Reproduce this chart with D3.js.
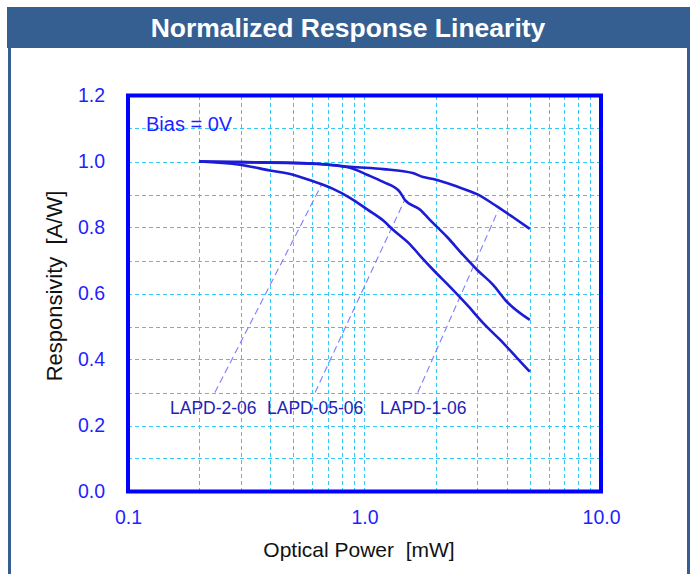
<!DOCTYPE html>
<html><head><meta charset="utf-8">
<script src="https://cdn.jsdelivr.net/npm/d3@7"></script>
<style>html,body{margin:0;padding:0;background:#fff;}svg{display:block;font-family:"Liberation Sans",Arial,sans-serif;}</style>
</head><body>
<svg id="c" width="690" height="574"></svg>
<script>
const title = "Normalized Response Linearity";
const xTicks = [0.1, 1.0, 10.0];
const xTickLabels = ["0.1", "1.0", "10.0"];
const yTicks = [0, 0.2, 0.4, 0.6, 0.8, 1.0, 1.2];
const yTickLabels = ["0.0", "0.2", "0.4", "0.6", "0.8", "1.0", "1.2"];
const seriesNames = ["LAPD-1-06", "LAPD-05-06", "LAPD-2-06"];
const lapd1X = [0.2, 0.3, 0.5, 0.7, 0.87, 1.2, 1.6, 1.77, 1.95, 2.46, 2.99, 3.63, 4.25, 5.0];
const lapd1Y = [1.0, 0.998, 0.996, 0.991, 0.984, 0.977, 0.965, 0.953, 0.947, 0.924, 0.901, 0.864, 0.831, 0.796];
const lapd05X = [0.2, 0.3, 0.5, 0.7, 0.868, 1.025, 1.2, 1.41, 1.48, 1.72, 1.89, 2.23, 2.61, 2.99, 3.49, 4.0, 5.0];
const lapd05Y = [1.0, 0.998, 0.995, 0.99, 0.981, 0.96, 0.938, 0.908, 0.884, 0.854, 0.823, 0.772, 0.717, 0.672, 0.627, 0.575, 0.52];
const lapd2X = [0.2, 0.297, 0.398, 0.499, 0.606, 0.736, 0.868, 1.03, 1.2, 1.32, 1.56, 1.75, 1.95, 2.3, 2.71, 3.17, 3.74, 4.41, 5.0];
const lapd2Y = [1.0, 0.99, 0.973, 0.96, 0.94, 0.917, 0.89, 0.854, 0.821, 0.793, 0.748, 0.708, 0.672, 0.62, 0.566, 0.511, 0.46, 0.405, 0.363];
// leader lines: [x0,y0,x1,y1] in data units
const leaderLAPD2 = [0.233, 0.30, 0.661, 0.932];
const leaderLAPD05 = [0.618, 0.30, 1.48, 0.884];
const leaderLAPD1 = [1.68, 0.30, 3.67, 0.851];
const labelNames = ["LAPD-2-06", "LAPD-05-06", "LAPD-1-06"];
const labelX = [0.1505, 0.387, 1.163];
const labelY = 0.235;

const svg = d3.select("#c");
const W = 690, H = 574;
const frameCol = "#365f91";
// title bar and frame
svg.append("rect").attr("x", 7).attr("y", 7).attr("width", W - 7).attr("height", 41).attr("fill", frameCol);
svg.append("rect").attr("x", 8).attr("y", 47).attr("width", 3).attr("height", H - 47).attr("fill", frameCol);
svg.append("rect").attr("x", 687).attr("y", 47).attr("width", 3).attr("height", H - 47).attr("fill", frameCol);
svg.append("text").attr("x", 348).attr("y", 37).attr("text-anchor", "middle")
  .attr("fill", "#fff").attr("font-weight", "bold").attr("font-size", 26.5).text(title);

const x = d3.scaleLog().domain([0.1, 10]).range([128, 601]);
const y = d3.scaleLinear().domain([0, 1.2]).range([491.5, 95.5]);
const px = v => Math.round(v) + 0.5;

// grid
const gridCol = "#38c8f5";
const vGrid = [];
for (const d of [0.1, 1]) for (let k = 2; k <= 9; k++) vGrid.push(d * k);
vGrid.push(1);
svg.append("g").selectAll("line").data(vGrid).join("line")
  .attr("x1", d => px(x(d))).attr("x2", d => px(x(d))).attr("y1", y(1.2)).attr("y2", y(0))
  .attr("stroke", gridCol).attr("stroke-width", 1).attr("stroke-dasharray", "4,3").attr("shape-rendering", "crispEdges");
const hGrid = d3.range(1, 12).map(i => i / 10);
svg.append("g").selectAll("line").data(hGrid).join("line")
  .attr("x1", x(0.1)).attr("x2", x(10)).attr("y1", d => px(y(d))).attr("y2", d => px(y(d)))
  .attr("stroke", gridCol).attr("stroke-width", 1).attr("stroke-dasharray", "4,3").attr("shape-rendering", "crispEdges");

// plot border
svg.append("rect").attr("x", x(0.1)).attr("y", y(1.2)).attr("width", x(10) - x(0.1)).attr("height", y(0) - y(1.2))
  .attr("fill", "none").attr("stroke", "#0000ff").attr("stroke-width", 4);

// axes tick labels
const tickCol = "#1f1fff";
const xAxis = d3.axisBottom(x).tickValues(xTicks).tickFormat((d, i) => xTickLabels[i]).tickSize(0).tickPadding(19);
const gx = svg.append("g").attr("transform", `translate(0,${y(0)})`).call(xAxis);
gx.select(".domain").remove();
gx.selectAll("text").attr("fill", tickCol).attr("font-size", 19.5).attr("font-family", "Liberation Sans, Arial, sans-serif");
const yAxis = d3.axisLeft(y).tickValues(yTicks).tickFormat((d, i) => yTickLabels[i]).tickSize(0).tickPadding(23);
const gy = svg.append("g").attr("transform", `translate(${x(0.1)},0)`).call(yAxis);
gy.select(".domain").remove();
gy.selectAll("text").attr("fill", tickCol).attr("font-size", 19.5).attr("font-family", "Liberation Sans, Arial, sans-serif");

// axis titles
svg.append("text").attr("x", 359).attr("y", 557).attr("text-anchor", "middle").attr("font-size", 21).attr("fill", "#111")
  .attr("xml:space", "preserve").text("Optical Power  [mW]");
svg.append("text").attr("transform", "translate(62,286) rotate(-90)").attr("text-anchor", "middle").attr("font-size", 22).attr("fill", "#111")
  .attr("xml:space", "preserve").text("Responsivity  [A/W]");

// leader lines
const leaders = [leaderLAPD2, leaderLAPD05, leaderLAPD1];
svg.append("g").selectAll("line").data(leaders).join("line")
  .attr("x1", d => x(d[0])).attr("y1", d => y(d[1])).attr("x2", d => x(d[2])).attr("y2", d => y(d[3]))
  .attr("stroke", "#7d7dff").attr("stroke-width", 1.1).attr("stroke-dasharray", "7,4");

// curves
const line = d3.line().x(d => x(d[0])).y(d => y(d[1])).curve(d3.curveMonotoneX);
const series = [[lapd1X, lapd1Y], [lapd05X, lapd05Y], [lapd2X, lapd2Y]];
svg.append("g").selectAll("path").data(series).join("path")
  .attr("d", s => line(s[0].map((v, i) => [v, s[1][i]])))
  .attr("fill", "none").attr("stroke", "#1c1cd6").attr("stroke-width", 2.6).attr("stroke-linejoin", "round");

// labels
svg.append("g").selectAll("text").data(labelNames).join("text")
  .attr("x", (d, i) => x(labelX[i])).attr("y", y(labelY)).attr("font-size", 17.5).attr("fill", "#2323b8").text(d => d);
svg.append("text").attr("x", 146).attr("y", 131).attr("font-size", 20).attr("fill", "#1f1fff").text("Bias = 0V");
</script>
</body></html>
